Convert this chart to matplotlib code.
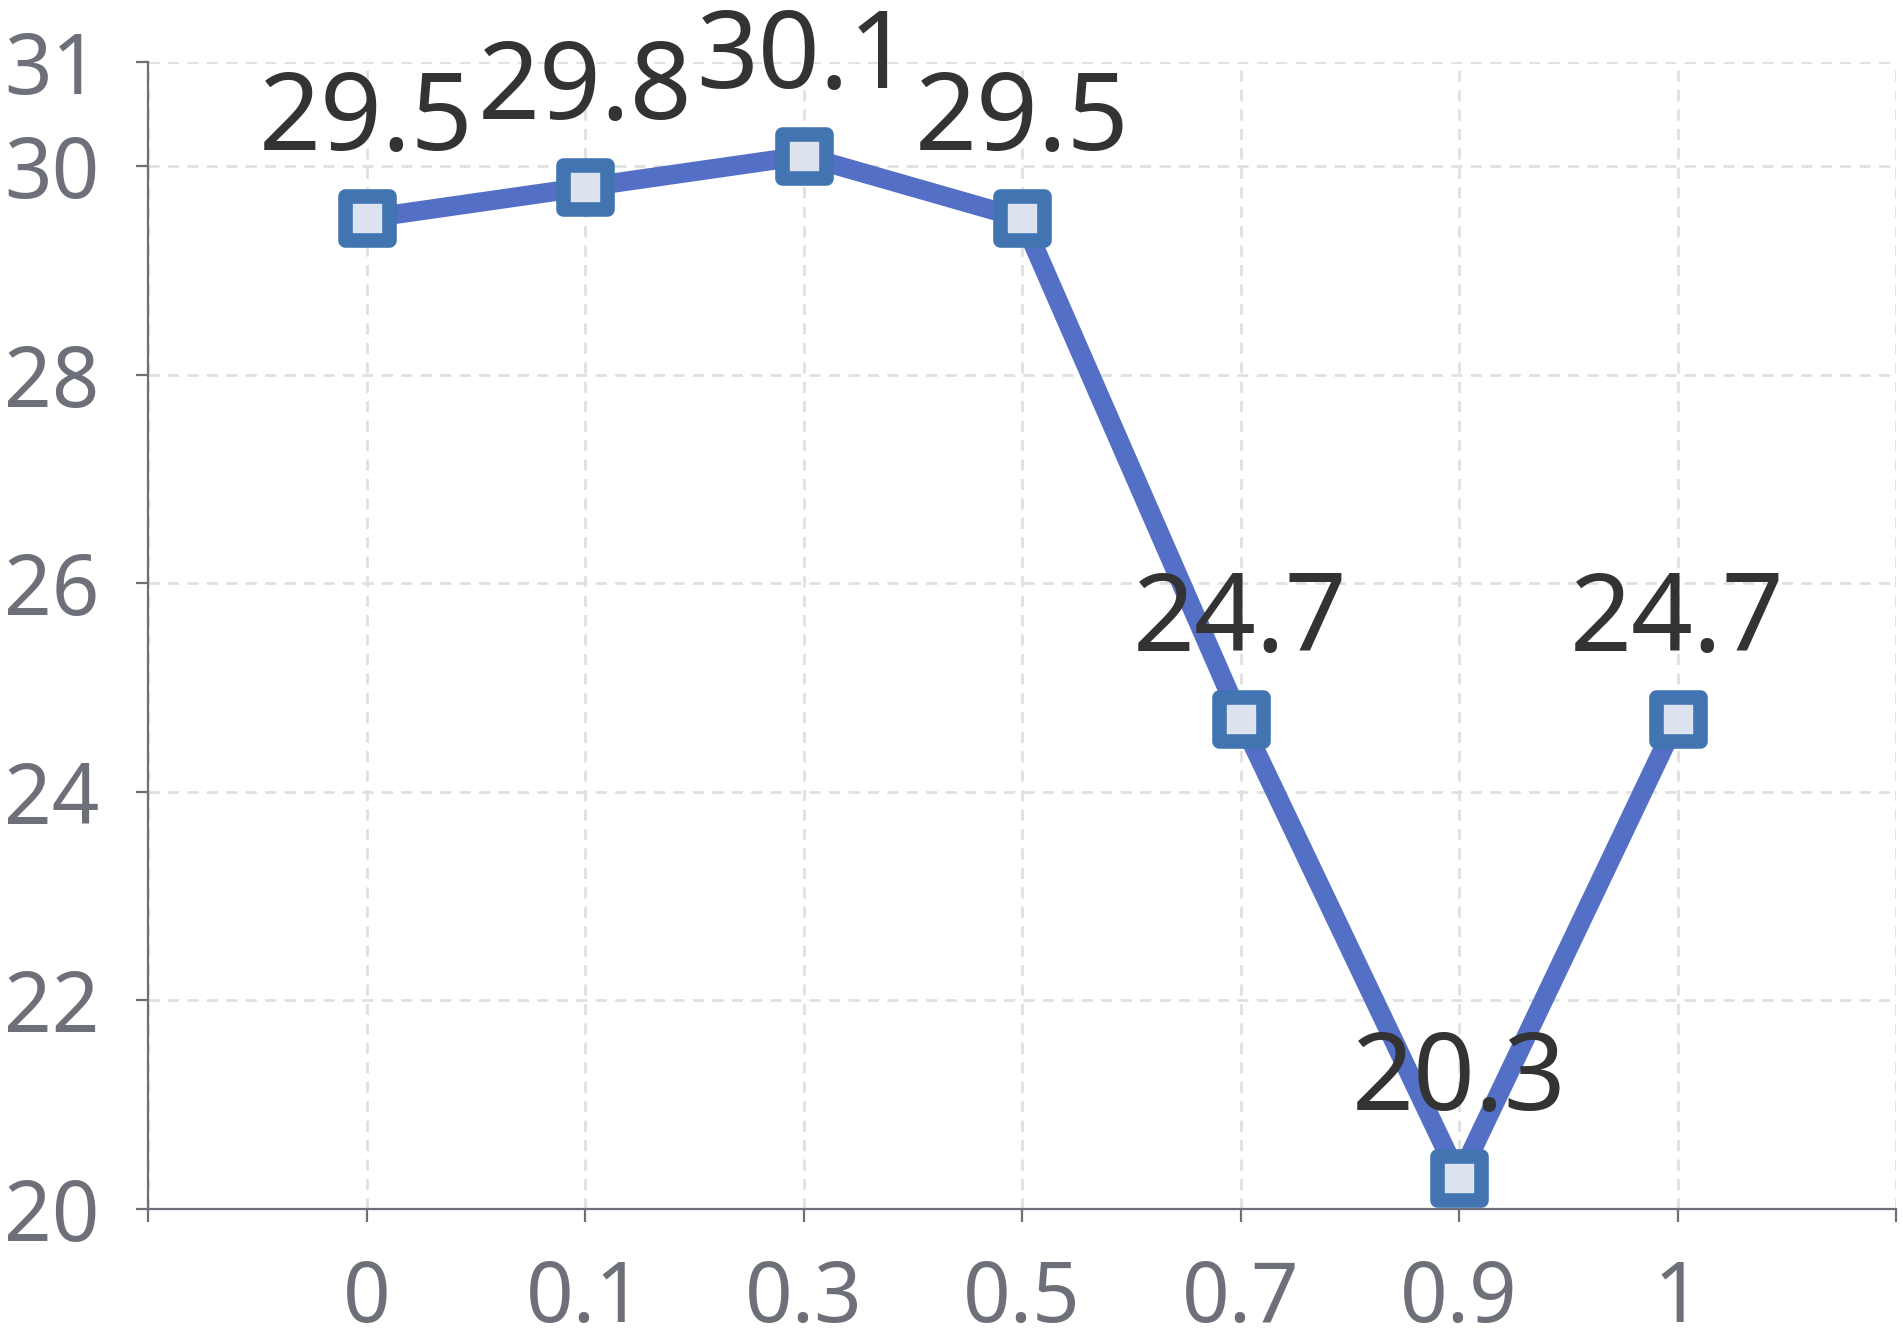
import numpy as np
import matplotlib
matplotlib.use("Agg")
import matplotlib.pyplot as plt
from matplotlib.markers import MarkerStyle

plt.rcParams['font.family'] = ['Noto Sans', 'DejaVu Sans']

categories = ['0', '0.1', '0.3', '0.5', '0.7', '0.9', '1']
values = [29.5, 29.8, 30.1, 29.5, 24.7, 20.3, 24.7]
yticks = [20, 22, 24, 26, 28, 30, 31]

axis_col = '#6E7079'
grid_col = '#E0E0E0'

fig = plt.figure(figsize=(19.03, 13.41), dpi=100)
ax = fig.add_axes([148 / 1903, 1 - 1209 / 1341, (1896 - 148) / 1903, (1209 - 62) / 1341])

x = np.arange(len(categories))

ax.plot(x, values, color='#5470C6', lw=14, solid_joinstyle='round', zorder=3, clip_on=False)
ax.plot(x, values, ls='none', marker=MarkerStyle('s', joinstyle='round'), ms=31, mew=10.5,
        mec='#4174B0', mfc='#DCE3EF', zorder=4, clip_on=False)

for xi, v in zip(x, values):
    ax.annotate(f'{v:g}', (xi, v), xytext=(0, 49), textcoords='offset points',
                ha='center', va='baseline', fontsize=78, color='#333333', zorder=5)

ax.set_xlim(-1, len(categories))
ax.set_ylim(20, 31)

ax.set_xticks(np.arange(-1, len(categories) + 1))
ax.set_xticklabels([''] + categories + [''])
ax.set_yticks(yticks)
ax.set_yticklabels([str(t) for t in yticks])

ax.grid(True, color=grid_col, ls=(0, (4, 3)), lw=2, zorder=0)
ax.set_axisbelow(True)

for side in ['top', 'right']:
    ax.spines[side].set_visible(False)
for side in ['left', 'bottom']:
    ax.spines[side].set_color(axis_col)
    ax.spines[side].set_linewidth(1.6)

ax.tick_params(axis='both', colors=axis_col, labelsize=60, width=1.6, length=9,
               direction='out')
ax.tick_params(axis='y', pad=26)
ax.tick_params(axis='x', pad=26)

fig.savefig('out.png', dpi=100)
